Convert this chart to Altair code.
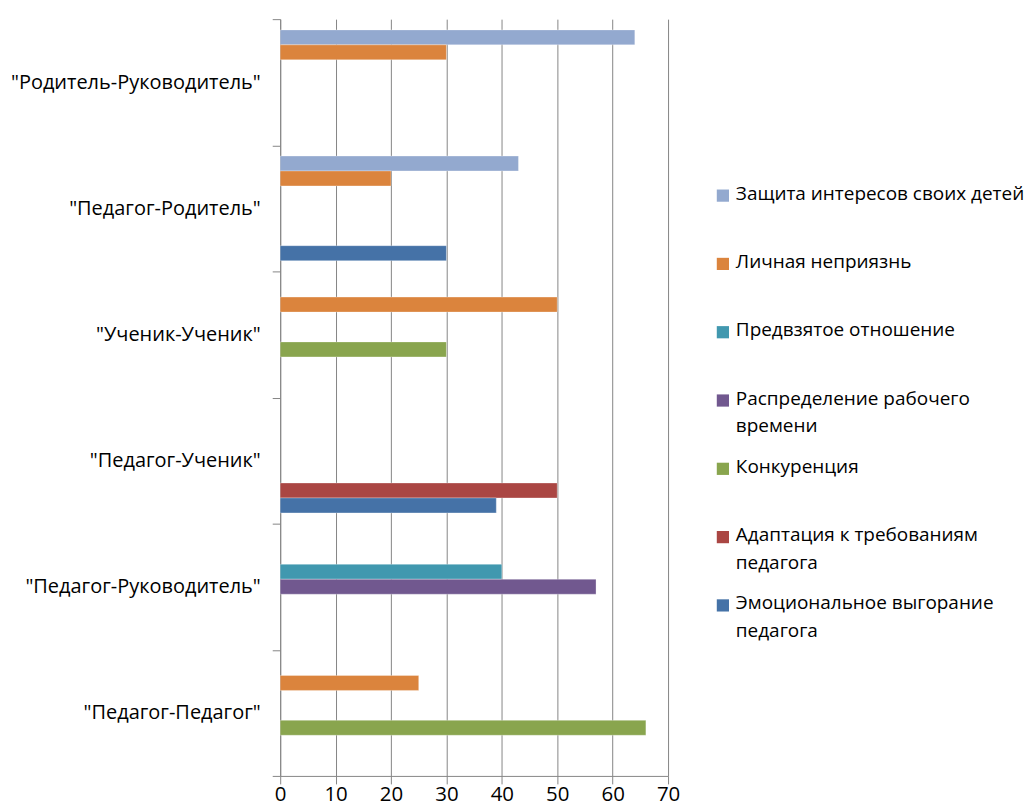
import altair as alt
import pandas as pd

categories = ['"Родитель-Руководитель"', '"Педагог-Родитель"', '"Ученик-Ученик"',
              '"Педагог-Ученик"', '"Педагог-Руководитель"', '"Педагог-Педагог"']
series = ["Защита интересов своих детей", "Личная неприязнь", "Предвзятое отношение",
          "Распределение рабочего времени", "Конкуренция",
          "Адаптация к требованиям педагога", "Эмоциональное выгорание педагога"]
legend_labels = ["Защита интересов своих детей", "Личная неприязнь", "Предвзятое отношение",
                 "Распределение рабочего\nвремени", "Конкуренция",
                 "Адаптация к требованиям\nпедагога", "Эмоциональное выгорание\nпедагога"]
colors = ["#93A9CF", "#DB843D", "#4198AF", "#71588F", "#89A54E", "#AA4643", "#4572A7"]

# values per series, aligned with categories (None = no bar)
zashchita = [64, 43, None, None, None, None]
lichnaya = [30, 20, 50, None, None, 25]
predvzyatoe = [None, None, None, None, 40, None]
raspredelenie = [None, None, None, None, 57, None]
konkurentsiya = [None, None, 30, None, None, 66]
adaptatsiya = [None, None, None, 50, None, None]
vygoranie = [None, 30, None, 39, None, None]

values_by_series = [zashchita, lichnaya, predvzyatoe, raspredelenie,
                    konkurentsiya, adaptatsiya, vygoranie]

rows = []
for s, vals in zip(series, values_by_series):
    for c, v in zip(categories, vals):
        if v is not None:
            rows.append({"category": c, "series": s, "value": v})
df = pd.DataFrame(rows)

FONT = "Open Sans"
GRID = "#868686"

color_enc = alt.Color("series:N", scale=alt.Scale(domain=series, range=colors), legend=None)

bars = alt.Chart(df).mark_bar(stroke="#ffffff", strokeWidth=0.6, strokeOpacity=0.5).encode(
    y=alt.Y("category:N", sort=categories,
            scale=alt.Scale(domain=categories, paddingInner=0, paddingOuter=0),
            axis=alt.Axis(title=None, tickBand="extent", labelFont=FONT, labelFontSize=20,
                          labelColor="#000000", labelPadding=12, tickSize=8, tickColor=GRID,
                          domainColor=GRID, grid=False, labelLimit=400)),
    x=alt.X("value:Q", scale=alt.Scale(domain=[0, 70], nice=False),
            axis=alt.Axis(title=None, values=list(range(0, 71, 10)), grid=True, gridColor=GRID,
                          gridOpacity=1, tickSize=8, tickColor=GRID, domainColor=GRID,
                          labelFont=FONT, labelFontSize=20.5, labelColor="#000000",
                          labelPadding=1, labelFlush=False)),
    yOffset=alt.YOffset("series:N", sort=series,
                        scale=alt.Scale(domain=series, paddingInner=0, paddingOuter=0.72)),
    color=color_enc,
).properties(width=389, height=759)

leg_df = pd.DataFrame({"series": series, "label": legend_labels})
leg_y = alt.Y("series:N", sort=series,
              scale=alt.Scale(domain=series, type="point", range=[177, 588], padding=0),
              axis=None)
sq = alt.Chart(leg_df).mark_square(size=150, opacity=1).encode(
    x=alt.value(6), y=leg_y, color=color_enc)
tx = alt.Chart(leg_df).mark_text(align="left", baseline="top", dy=-11, lineBreak="\n",
                                 lineHeight=28, font=FONT, fontSize=19, color="#000000",
                                 limit=300).encode(
    x=alt.value(19), y=leg_y, text="label:N")
legend = (sq + tx).properties(width=280, height=759)

chart = alt.hconcat(bars, legend, spacing=36).configure_view(stroke=None).properties(
    padding={"left": 2, "top": 0, "right": 0, "bottom": 0})

chart.save("out.html", embed_options={"renderer": "svg", "actions": False})
